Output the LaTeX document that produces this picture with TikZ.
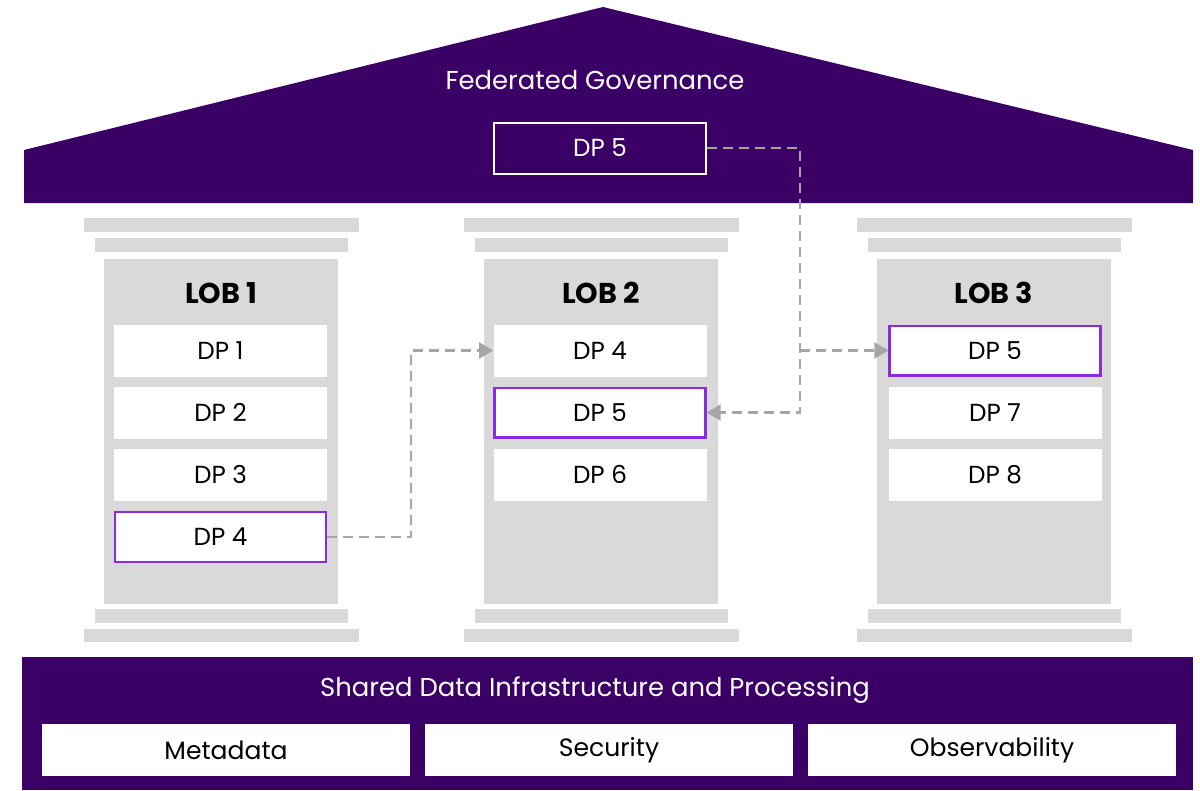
\documentclass[tikz,border=0pt]{standalone}
\usepackage{fontspec}
\setmainfont{Poppins}
\usetikzlibrary{arrows.meta,calc}
\definecolor{roofpurple}{HTML}{3B0066}
\definecolor{colgray}{HTML}{D9D9D9}
\definecolor{hilite}{HTML}{8A2BE2}
\definecolor{conngray}{HTML}{A6A6A6}
\tikzset{
  dpbox/.style={rectangle, fill=white, minimum width=159.75pt, minimum height=39pt, inner sep=0pt, font=\fontsize{18.5}{20}\selectfont},
  hibox/.style={dpbox, draw=hilite, line width=1.8pt, minimum width=158pt, minimum height=37.2pt},
  roofbox/.style={dpbox, fill=roofpurple, draw=white, line width=1.5pt, text=white, minimum width=159pt, minimum height=38.25pt},
  lobtitle/.style={font=\fontsize{21.5}{24}\selectfont\bfseries},
  infrabox/.style={rectangle, fill=white, minimum width=276pt, minimum height=39pt, inner sep=0pt, font=\fontsize{18.8}{20}\selectfont},
  headtext/.style={text=white, font=\fontsize{19.4}{22}\selectfont},
  conn/.style={draw=conngray, line width=1.6pt, dash pattern=on 7.5pt off 4.5pt},
  arr/.style={conn, -{Triangle[length=10.5pt,width=12pt,fill=conngray]}},
}
\newcommand{\pillar}[1]{%
  \fill[colgray] (#1-137.5,218) rectangle (#1+137.5,232);
  \fill[colgray] (#1-126.5,238) rectangle (#1+126.5,252);
  \fill[colgray] (#1-117,259) rectangle (#1+117,604);
  \fill[colgray] (#1-126.5,609) rectangle (#1+126.5,623);
  \fill[colgray] (#1-137.5,629) rectangle (#1+137.5,642);
}
\begin{document}
\begin{tikzpicture}[x=0.75pt,y=-0.75pt]
\useasboundingbox (0,0) rectangle (1200,790);
% roof
\fill[roofpurple] (24,150) -- (603,7) -- (1193,150) -- (1193,203) -- (24,203) -- cycle;
\node[headtext] (gov) at (595,80) {Federated Governance};
\node[roofbox] (r5) at (600,148) {DP 5};
% pillars
\pillar{221}
\pillar{601}
\pillar{994}
% LOB 1
\node[lobtitle] (lob1) at (221,293) {LOB 1};
\node[dpbox] (a1) at (220.5,350.5) {DP 1};
\node[dpbox] (a2) at (220.5,412.5) {DP 2};
\node[dpbox] (a3) at (220.5,474.5) {DP 3};
\node[hibox] (a4) at (220.5,537) {DP 4};
% LOB 2
\node[lobtitle] (lob2) at (601,293) {LOB 2};
\node[dpbox] (b4) at (600,350.5) {DP 4};
\node[hibox] (b5) at (600,412.5) {DP 5};
\node[dpbox] (b6) at (600,474.5) {DP 6};
% LOB 3
\node[lobtitle] (lob3) at (994,293) {LOB 3};
\node[hibox] (c5) at (995,350.5) {DP 5};
\node[dpbox] (c7) at (995,412.5) {DP 7};
\node[dpbox] (c8) at (995,474.5) {DP 8};
% base
\fill[roofpurple] (22,657) rectangle (1193,790);
\node[headtext] (infra) at (595,690) {Shared Data Infrastructure and Processing};
\node[infrabox] (meta) at (226,750) {Metadata};
\node[infrabox] (sec) at (609,750) {Security};
\node[infrabox] (obs) at (992,750) {Observability};
% connectors
\coordinate (k1) at (411,0);
\coordinate (k2) at (800,0);
\draw[arr] (a4.east) -- (a4.east -| k1) |- (b4.west);
\draw[arr] (r5.east) -- (r5.east -| k2) |- (b5.east);
\draw[arr] (c5.west -| k2) -- (c5.west);
\end{tikzpicture}
\end{document}
